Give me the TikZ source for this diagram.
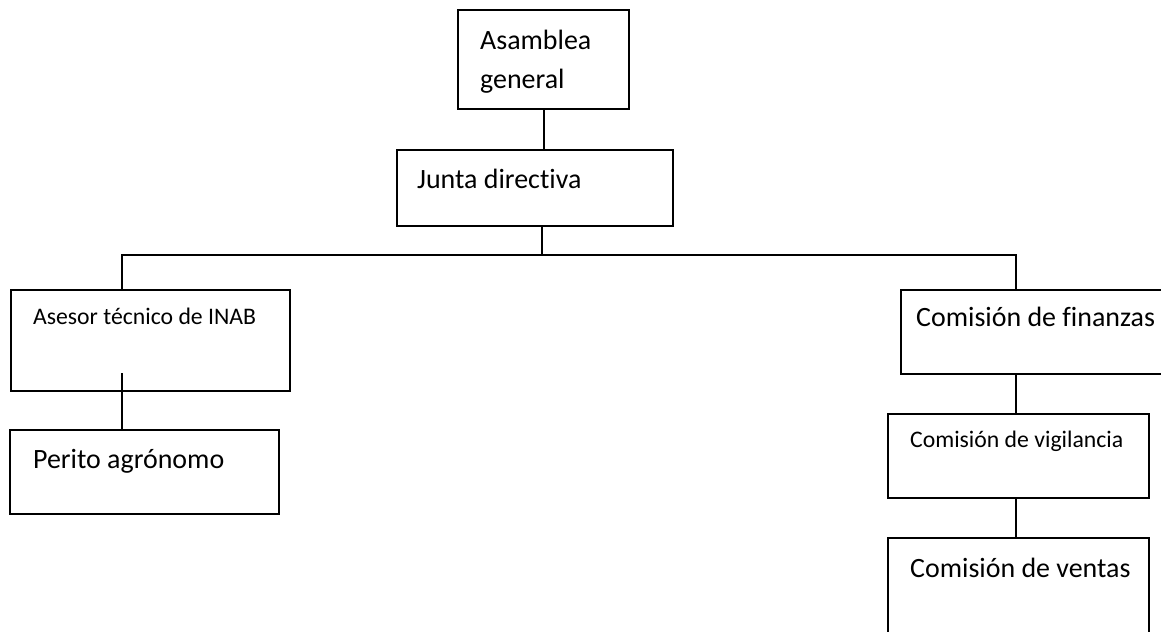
\documentclass[tikz,border=0pt]{standalone}
\usepackage{fontspec}
\setmainfont{Carlito}[Ligatures={NoCommon}]
\usepackage{tikz}

\begin{document}
\begin{tikzpicture}[line width=1.3pt, orgbox/.style={draw, rectangle, anchor=north west, inner sep=0pt}, big/.style={anchor=base west, inner sep=0pt, align=left, font=\fontsize{15.9}{22.2}\selectfont}, small/.style={anchor=base west, inner sep=0pt, font=\fontsize{13.5}{17}\selectfont}]
    \useasboundingbox (0,0) rectangle (23.22,-12.62);

    \node[orgbox, minimum width=3.42cm, minimum height=1.98cm] (asamblea) at (9.14,-0.18) {};
    \node[big] (asambleatext) at (9.58,-1.78) {Asamblea\\general};
    \node[orgbox, minimum width=5.52cm, minimum height=1.52cm] (junta) at (7.92,-2.98) {};
    \node[big] (juntatext) at (8.32,-3.76) {Junta directiva};

    \node[orgbox, minimum width=5.58cm, minimum height=2.02cm] (asesor) at (0.2,-5.78) {};
    \node[small] (asesortext) at (0.64,-6.48) {Asesor técnico de INAB};
    \node[orgbox, minimum width=5.38cm, minimum height=1.68cm] (perito) at (0.18,-8.58) {};
    \node[big] (peritotext) at (0.64,-9.36) {Perito agrónomo};

    \node[orgbox, minimum width=5.3cm, minimum height=1.68cm] (finanzas) at (18.0,-5.78) {};
    \node[big] (finanzastext) at (18.3,-6.52) {Comisión de finanzas};
    \node[orgbox, minimum width=5.22cm, minimum height=1.68cm] (vigilancia) at (17.74,-8.26) {};
    \node[small] (vigilanciatext) at (18.18,-8.94) {Comisión de vigilancia};
    \node[orgbox, minimum width=5.22cm, minimum height=2.2cm] (ventas) at (17.74,-10.74) {};
    \node[big] (ventastext) at (18.18,-11.54) {Comisión de ventas};

    \coordinate (split) at (10.84,-5.1);
    \coordinate (leftdrop) at (2.44,-5.1);
    \coordinate (rightdrop) at (20.32,-5.1);
    \coordinate (asesorstub) at (2.44,-7.46);

    \draw (asamblea.south) -- (asamblea.south |- junta.north);
    \draw (split |- junta.south) -- (split);
    \draw (leftdrop |- asesor.north) -- (leftdrop) -- (rightdrop) -- (rightdrop |- finanzas.north);
    \draw (asesorstub) -- (asesorstub |- perito.north);
    \draw (rightdrop |- finanzas.south) -- (rightdrop |- vigilancia.north);
    \draw (rightdrop |- vigilancia.south) -- (rightdrop |- ventas.north);
\end{tikzpicture}
\end{document}
